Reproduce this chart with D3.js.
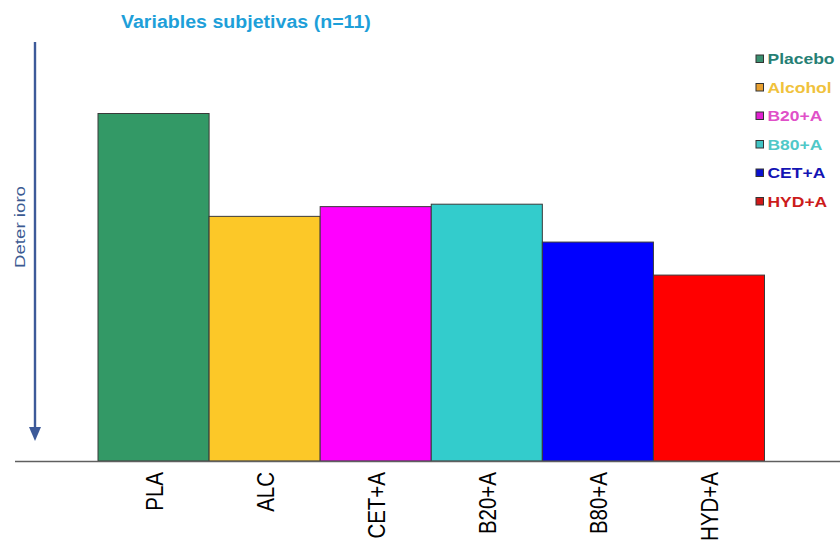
<!DOCTYPE html>
<html>
<head>
<meta charset="utf-8">
<script src="https://cdn.jsdelivr.net/npm/d3@7"></script>
<style>
  html, body { margin: 0; padding: 0; background: #fff; }
  svg { display: block; }
  text { font-family: "Liberation Sans", Arial, sans-serif; }
</style>
</head>
<body>
<svg id="chart" width="840" height="546"></svg>
<script>
// Groups on the x axis, in drawing order
const categories = ["PLA", "ALC", "CET+A", "B20+A", "B80+A", "HYD+A"];
// Relative deterioration score per group (placebo = 100)
const values = [100, 70.4, 73.2, 73.9, 63.0, 53.5];
const barColors = ["#339966", "#fcc828", "#ff00ff", "#33cccc", "#0000ff", "#ff0000"];

// Legend entries
const legendLabels = ["Placebo", "Alcohol", "B20+A", "B80+A", "CET+A", "HYD+A"];
const legendSwatch = ["#3a9070", "#e8a030", "#e020d0", "#40c4c4", "#0a10d0", "#d01818"];
const legendText = ["#267f74", "#f0c23c", "#e050c8", "#50c8c8", "#1414b4", "#cc1b1b"];

const title = "Variables subjetivas (n=11)";
const axisTitle = "Deter ioro";

const svg = d3.select("#chart");

const x = d3.scaleBand().domain(categories).range([98, 764.5]).padding(0);
const y = d3.scaleLinear().domain([0, 100]).range([461, 113.5]);

// Bars
svg.append("g").selectAll("rect")
  .data(categories)
  .join("rect")
  .attr("x", d => x(d))
  .attr("y", (d, i) => y(values[i]))
  .attr("width", x.bandwidth())
  .attr("height", (d, i) => y(0) - y(values[i]))
  .attr("fill", (d, i) => barColors[i])
  .attr("stroke", "#3a3a3a")
  .attr("stroke-width", 1);

// Baseline
svg.append("line")
  .attr("x1", 15).attr("x2", 840)
  .attr("y1", y(0) + 0.5).attr("y2", y(0) + 0.5)
  .attr("stroke", "#5f5f5f").attr("stroke-width", 1.6);

// Category labels, rotated
const xAxis = d3.axisBottom(x).tickSize(0).tickPadding(0);
const gx = svg.append("g").attr("transform", `translate(0,${y(0)})`).call(xAxis);
gx.select(".domain").remove();
gx.selectAll(".tick text")
  .attr("transform", "translate(1,11) scale(1.16,1) rotate(-90)")
  .attr("x", 0).attr("y", 0)
  .attr("dy", "0.35em")
  .attr("text-anchor", "end")
  .attr("fill", "#000")
  .style("font-size", "20.5px")
  .style("font-family", "'Liberation Sans', Arial, sans-serif");

// Title
svg.append("text")
  .attr("transform", "translate(121,27.5) scale(1.12,1)")
  .attr("fill", "#1e9fd9")
  .style("font-size", "17.5px")
  .style("font-weight", "bold")
  .text(title);

// Downward arrow with its label
const arrowColor = "#3d5a99";
svg.append("line")
  .attr("x1", 35).attr("x2", 35).attr("y1", 42).attr("y2", 430)
  .attr("stroke", arrowColor).attr("stroke-width", 2.4);
svg.append("path")
  .attr("d", d3.line()([[29, 427], [41, 427], [35, 441]]) + "Z")
  .attr("fill", arrowColor);
svg.append("text")
  .attr("transform", "translate(24.5,227) rotate(-90)")
  .attr("text-anchor", "middle")
  .attr("fill", "#3b5a92")
  .style("font-size", "15.5px")
  .attr("textLength", 82)
  .attr("lengthAdjust", "spacingAndGlyphs")
  .text(axisTitle);

// Legend
const legend = svg.append("g");
const rowY = d3.scalePoint().domain(legendLabels).range([59, 201.5]);
const items = legend.selectAll("g").data(legendLabels).join("g")
  .attr("transform", d => `translate(756,${rowY(d)})`);
items.append("rect")
  .attr("x", 0).attr("y", -4).attr("width", 7.5).attr("height", 7.5)
  .attr("fill", (d, i) => legendSwatch[i])
  .attr("stroke", "#333").attr("stroke-width", 1);
items.append("text")
  .attr("transform", "translate(11.5,5) scale(1.25,1)")
  .attr("fill", (d, i) => legendText[i])
  .style("font-size", "14px")
  .style("font-weight", "bold")
  .text(d => d);
</script>
</body>
</html>
